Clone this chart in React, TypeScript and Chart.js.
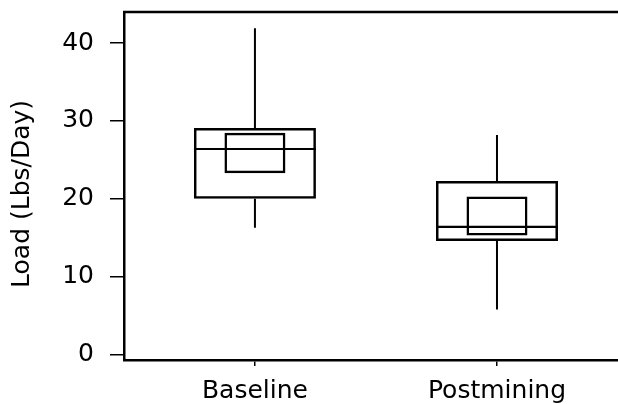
import React, { useEffect, useRef } from "react";
import { Chart, registerables } from "chart.js";

Chart.register(...registerables);

const categories = ["Baseline", "Postmining"];
const whiskerHigh = [41.9, 28.2];
const q3 = [29.1, 22.3];
const ciHigh = [28.5, 20.3];
const medians = [26.4, 16.4];
const ciLow = [23.3, 15.3];
const q1 = [20.0, 14.6];
const whiskerLow = [16.3, 5.8];
const yTicks = [0, 10, 20, 30, 40];
const yTitle = "Load (Lbs/Day)";

const OUTER = 0.504;
const INNER = 0.252;
const FONT = "'DejaVu Sans', 'Liberation Sans', Arial, sans-serif";

const topBorder = {
  id: "topBorder",
  afterDraw(chart: any) {
    const { ctx, chartArea } = chart;
    ctx.save();
    ctx.strokeStyle = "#000";
    ctx.lineWidth = 2.5;
    ctx.beginPath();
    ctx.moveTo(chartArea.left - 1, chartArea.top);
    ctx.lineTo(chartArea.right, chartArea.top);
    ctx.stroke();
    ctx.restore();
  },
};

export default function App() {
  const ref = useRef<HTMLCanvasElement | null>(null);
  useEffect(() => {
    if (!ref.current) return;
    const xs = categories.map((_, i) => i + 1);
    const whiskerData: any[] = [];
    const medianData: any[] = [];
    xs.forEach((x, i) => {
      whiskerData.push({ x, y: whiskerHigh[i] }, { x, y: q3[i] }, { x, y: null });
      whiskerData.push({ x, y: q1[i] }, { x, y: whiskerLow[i] }, { x, y: null });
      medianData.push(
        { x: x - OUTER / 2, y: medians[i] },
        { x: x + OUTER / 2, y: medians[i] },
        { x: x + OUTER / 2, y: null }
      );
    });
    const chart = new Chart(ref.current, {
      type: "bar",
      data: {
        datasets: [
          {
            type: "bar",
            data: xs.map((x, i) => ({ x, y: [q1[i], q3[i]] })),
            backgroundColor: "rgba(0,0,0,0)",
            borderColor: "#000",
            borderWidth: 2.5,
            borderSkipped: false,
            grouped: false,
            categoryPercentage: 1,
            barPercentage: OUTER,
          } as any,
          {
            type: "bar",
            data: xs.map((x, i) => ({ x, y: [ciLow[i], ciHigh[i]] })),
            backgroundColor: "rgba(0,0,0,0)",
            borderColor: "#000",
            borderWidth: 2.5,
            borderSkipped: false,
            grouped: false,
            categoryPercentage: 1,
            barPercentage: INNER,
          } as any,
          {
            type: "line",
            data: whiskerData,
            borderColor: "#000",
            borderWidth: 2,
            pointRadius: 0,
            spanGaps: false,
          } as any,
          {
            type: "line",
            data: medianData,
            borderColor: "#000",
            borderWidth: 2.2,
            pointRadius: 0,
            spanGaps: false,
          } as any,
        ],
      },
      options: {
        animation: false,
        responsive: false,
        maintainAspectRatio: false,
        layout: { padding: { top: 12, left: 0, right: 0, bottom: 0 } },
        plugins: { legend: { display: false }, tooltip: { enabled: false } },
        scales: {
          x: {
            type: "linear",
            offset: false,
            min: 0.459,
            max: 2.5,
            afterFit: (s: any) => {
              s.height = 44;
              s.paddingLeft = 0;
              s.paddingRight = 0;
            },
            afterBuildTicks: (s: any) => {
              s.ticks = xs.map((v) => ({ value: v }));
            },
            ticks: {
              callback: (v: any) => categories[Number(v) - 1] ?? "",
              color: "#000",
              font: { family: FONT, size: 25 },
              padding: 10,
              maxRotation: 0,
              autoSkip: false,
            },
            grid: {
              offset: false,
              drawOnChartArea: false,
              drawTicks: true,
              tickLength: 6,
              color: "#000",
              lineWidth: 1.5,
            },
            border: { display: true, color: "#000", width: 2.5 },
          },
          y: {
            type: "linear",
            min: -0.7,
            max: 44,
            afterFit: (s: any) => {
              s.width = 124;
              s.paddingTop = 0;
              s.paddingBottom = 0;
            },
            afterBuildTicks: (s: any) => {
              s.ticks = yTicks.map((v) => ({ value: v }));
            },
            ticks: {
              color: "#000",
              font: { family: FONT, size: 25 },
              padding: 16,
            },
            grid: {
              drawOnChartArea: false,
              drawTicks: true,
              tickLength: 14,
              color: "#000",
              lineWidth: 1.5,
            },
            border: { display: true, color: "#000", width: 2.5 },
            title: {
              display: true,
              text: yTitle + "  ",
              color: "#000",
              font: { family: FONT, size: 25 },
              padding: { top: 7, bottom: 0 },
            },
          },
        },
      },
      plugins: [topBorder],
    });
    return () => chart.destroy();
  }, []);
  return (
    <div style={{ position: "absolute", left: 0, top: 0, width: 618, height: 404, background: "#fff" }}>
      <canvas ref={ref} width={618} height={404} style={{ display: "block" }} />
    </div>
  );
}
